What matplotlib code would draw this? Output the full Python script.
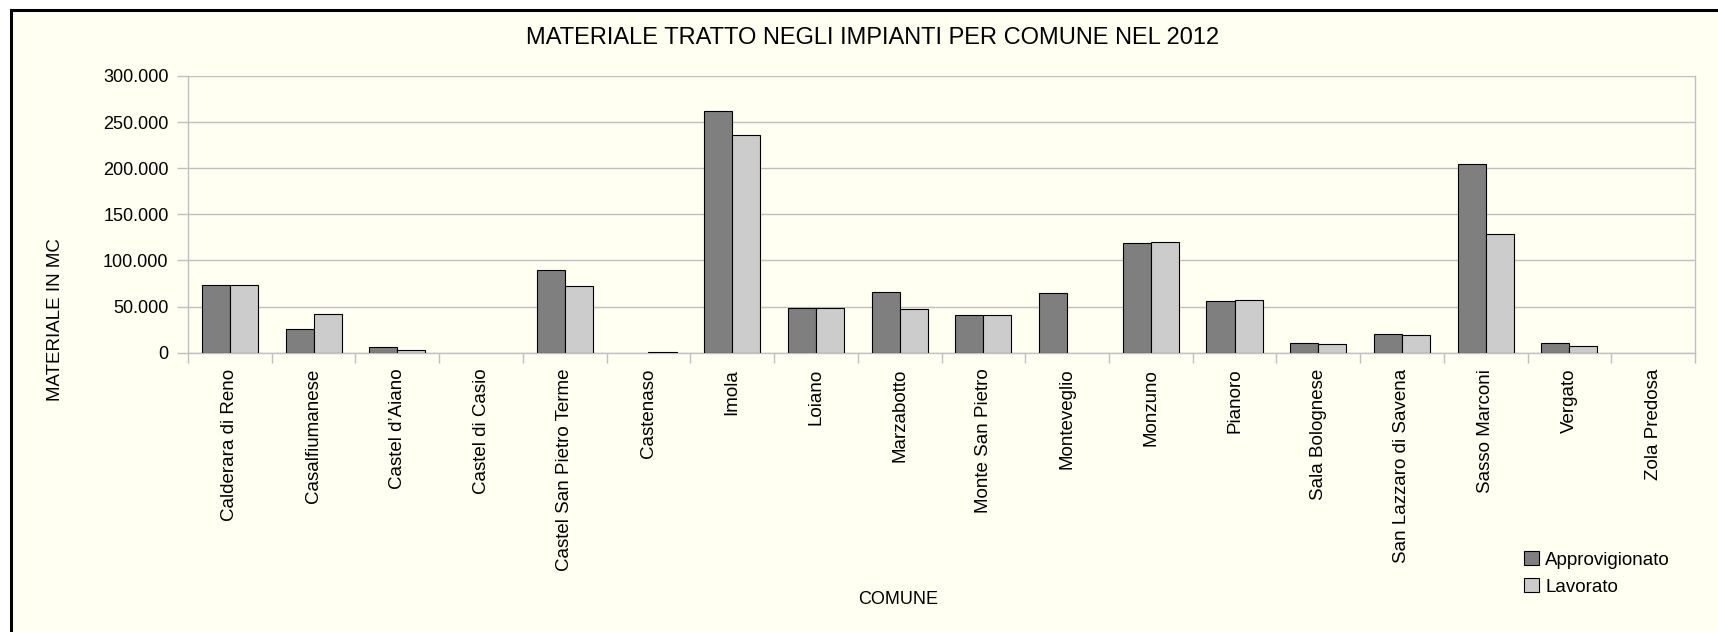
import numpy as np
import matplotlib
matplotlib.use('Agg')
import matplotlib.pyplot as plt
from matplotlib.patches import Rectangle
from matplotlib.ticker import FuncFormatter

plt.rcParams['font.family'] = ['Liberation Sans', 'DejaVu Sans']

# dati (mc)
comuni = ['Calderara di Reno', 'Casalfiumanese', 'Castel d’Aiano', 'Castel di Casio',
          'Castel San Pietro Terme', 'Castenaso', 'Imola', 'Loiano', 'Marzabotto',
          'Monte San Pietro', 'Monteveglio', 'Monzuno', 'Pianoro', 'Sala Bolognese',
          'San Lazzaro di Savena', 'Sasso Marconi', 'Vergato', 'Zola Predosa']
approvvigionato = [73600, 26000, 6100, 0, 90200, 0, 262500, 48000, 65400,
                   41000, 64300, 118600, 55900, 10000, 19800, 204300, 10000, 0]
lavorato = [73600, 41600, 2900, 0, 72800, 400, 236500, 48000, 46900,
            41000, 0, 119700, 57300, 9700, 19100, 129000, 7800, 0]
serie = ['Approvigionato', 'Lavorato']
colori = ['#7f7f7f', '#cccccc']
y_ticks = [0, 50000, 100000, 150000, 200000, 250000, 300000]

W, H = 1718, 632
fig = plt.figure(figsize=(W / 100, H / 100), dpi=100, facecolor='white')

# sfondo con bordo (tagliato a destra e in basso)
bg = Rectangle((10.5 / W, -0.05), 1.1, 1 - 9.5 / H + 0.05, transform=fig.transFigure,
               facecolor='#fffff2', edgecolor='black', linewidth=2.2, zorder=-10)
fig.patches.append(bg)

ax = fig.add_axes([188 / W, 1 - 352.7 / H, (1695 - 188) / W, (352.7 - 76) / H])
ax.set_facecolor('none')

x = np.arange(len(comuni))
w = 0.335
for i, (vals, col, lab) in enumerate(zip([approvvigionato, lavorato], colori, serie)):
    edges = ['black' if v > 0 else 'none' for v in vals]
    ax.bar(x + (i - 0.5) * w, vals, width=w, color=col, edgecolor=edges,
           linewidth=0.8, label=lab, zorder=3)

ax.set_xlim(-0.5, len(comuni) - 0.5)
ax.set_ylim(0, 300000)
ax.set_yticks(y_ticks)
ax.yaxis.set_major_formatter(FuncFormatter(lambda v, p: f'{int(v):,}'.replace(',', '.')))
ax.set_xticks(x)
ax.set_xticklabels(comuni, rotation=90, fontsize=13.5)
ax.set_xticks(np.arange(-0.5, len(comuni), 1), minor=True)
ax.tick_params(axis='x', which='major', length=0, pad=11.5)
ax.tick_params(axis='x', which='minor', length=7.5, color='#c0c0c0', width=1)
ax.tick_params(axis='y', length=8, color='#c0c0c0', width=1, labelsize=13, pad=6)

ax.grid(axis='y', color='#c0c0c0', linewidth=1, zorder=0)
for s in ax.spines.values():
    s.set_color('#c0c0c0')
    s.set_linewidth(1)
ax.spines['top'].set_visible(False)

fig.text(873 / W, 1 - 38 / H, 'MATERIALE TRATTO NEGLI IMPIANTI PER COMUNE NEL 2012',
         ha='center', va='center', fontsize=17)
fig.text(55 / W, 1 - 320 / H, 'MATERIALE IN MC', rotation=90,
         ha='center', va='center', fontsize=13.5)
fig.text(898 / W, 1 - 600 / H, 'COMUNE', ha='center', va='center', fontsize=13)

ax.legend(loc='upper left', bbox_to_anchor=(1524 / W, 1 - 551 / H),
          bbox_transform=fig.transFigure, frameon=False, fontsize=13.5,
          handlelength=0.78, handleheight=0.78, handletextpad=0.35,
          labelspacing=0.5, borderpad=0, borderaxespad=0)

fig.savefig('out.png', dpi=100, facecolor=fig.get_facecolor())
